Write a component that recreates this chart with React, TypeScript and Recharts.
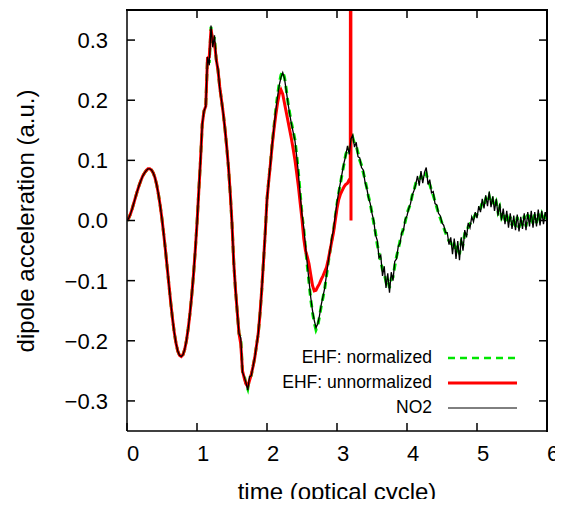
import React from "react";
import { LineChart, Line, XAxis, YAxis, Legend } from "recharts";

// sampling step of the tabulated series (optical cycles)
const STEP = 0.025;

// NO2 dipole acceleration, t = 0 .. 6
const no2 = [
  0.0, 0.004, 0.011, 0.02, 0.03, 0.04, 0.05, 0.059, 0.067, 0.074, // 0.0
  0.079, 0.083, 0.086, 0.086, 0.084, 0.079, 0.071, 0.059, 0.043, 0.024, // 0.25
  0.002, -0.023, -0.05, -0.079, -0.108, -0.137, -0.163, -0.186, -0.204, -0.217, // 0.5
  -0.224, -0.226, -0.223, -0.214, -0.199, -0.179, -0.154, -0.124, -0.09, -0.05, // 0.75
  -0.005, 0.048, 0.1, 0.16, 0.182, 0.19, 0.272, 0.258, 0.324, 0.288, // 1.0
  0.308, 0.266, 0.252, 0.22, 0.2, 0.178, 0.152, 0.122, 0.088, 0.045, // 1.25
  -0.005, -0.07, -0.115, -0.152, -0.188, -0.195, -0.252, -0.26, -0.27, -0.282, // 1.5
  -0.26, -0.258, -0.243, -0.228, -0.208, -0.188, -0.155, -0.115, -0.068, -0.02, // 1.75
  0.035, 0.066, 0.095, 0.128, 0.155, 0.182, 0.205, 0.225, 0.238, 0.246, // 2.0
  0.236, 0.216, 0.195, 0.176, 0.16, 0.146, 0.132, 0.106, 0.076, 0.042, // 2.25
  0.01, -0.012, -0.042, -0.072, -0.1, -0.128, -0.15, -0.166, -0.178, -0.172, // 2.5
  -0.158, -0.14, -0.126, -0.112, -0.09, -0.068, -0.05, -0.03, -0.015, 0.008, // 2.75
  0.03, 0.048, 0.064, 0.08, 0.096, 0.108, 0.124, 0.11, 0.136, 0.142, // 3.0
  0.122, 0.13, 0.106, 0.104, 0.088, 0.084, 0.064, 0.054, 0.038, 0.028, // 3.25
  0.012, 0.0, -0.024, -0.033, -0.062, -0.058, -0.092, -0.076, -0.112, -0.088, // 3.5
  -0.12, -0.086, -0.1, -0.068, -0.064, -0.043, -0.038, -0.02, -0.016, 0.002, // 3.75
  0.008, 0.02, 0.028, 0.042, 0.05, 0.06, 0.074, 0.058, 0.082, 0.062, // 4.0
  0.08, 0.088, 0.06, 0.068, 0.046, 0.048, 0.028, 0.026, 0.012, 0.008, // 4.25
  -0.004, -0.008, -0.02, -0.02, -0.04, -0.028, -0.056, -0.03, -0.064, -0.034, // 4.5
  -0.066, -0.028, -0.05, -0.016, -0.028, -0.004, -0.012, 0.006, -0.002, 0.014, // 4.75
  0.004, 0.024, 0.014, 0.036, 0.02, 0.042, 0.024, 0.048, 0.022, 0.04, // 5.0
  0.016, 0.036, 0.008, 0.028, 0.0, 0.02, -0.006, 0.016, -0.012, 0.012, // 5.25
  -0.014, 0.008, -0.016, 0.01, -0.018, 0.006, -0.014, 0.012, -0.016, 0.014, // 5.5
  -0.01, 0.016, -0.012, 0.014, -0.01, 0.018, -0.008, 0.016, -0.006, 0.014, // 5.75
  0.002,
];

// EHF normalized, t = 0 .. 6
const ehfNorm = [
  0.0, 0.004, 0.011, 0.02, 0.03, 0.04, 0.05, 0.059, 0.067, 0.074,
  0.079, 0.083, 0.086, 0.086, 0.084, 0.079, 0.071, 0.059, 0.043, 0.024,
  0.002, -0.023, -0.05, -0.079, -0.108, -0.137, -0.163, -0.186, -0.204, -0.217,
  -0.224, -0.226, -0.223, -0.214, -0.199, -0.179, -0.154, -0.124, -0.09, -0.05,
  -0.005, 0.048, 0.1, 0.16, 0.182, 0.19, 0.27, 0.262, 0.322, 0.292,
  0.305, 0.268, 0.25, 0.222, 0.2, 0.178, 0.152, 0.122, 0.088, 0.045,
  -0.005, -0.07, -0.115, -0.152, -0.188, -0.195, -0.252, -0.258, -0.272, -0.28,
  -0.262, -0.258, -0.243, -0.228, -0.208, -0.188, -0.155, -0.115, -0.068, -0.02,
  0.035, 0.068, 0.097, 0.13, 0.157, 0.184, 0.208, 0.228, 0.242, 0.248,
  0.238, 0.218, 0.196, 0.178, 0.162, 0.148, 0.134, 0.108, 0.078, 0.044,
  0.01, -0.014, -0.045, -0.075, -0.103, -0.131, -0.153, -0.17, -0.182, -0.175,
  -0.16, -0.142, -0.128, -0.113, -0.092, -0.07, -0.052, -0.032, -0.016, 0.006,
  0.028, 0.046, 0.062, 0.079, 0.094, 0.11, 0.118, 0.116, 0.13, 0.138,
  0.128, 0.124, 0.112, 0.1, 0.092, 0.08, 0.068, 0.054, 0.04, 0.028,
  0.012, -0.004, -0.02, -0.04, -0.054, -0.068, -0.082, -0.088, -0.102, -0.098,
  -0.112, -0.096, -0.094, -0.076, -0.06, -0.048, -0.034, -0.024, -0.012, -0.002,
  0.012, 0.02, 0.028, 0.042, 0.05, 0.062, 0.066, 0.066, 0.074, 0.068,
  0.072, 0.078, 0.066, 0.06, 0.05, 0.042, 0.032, 0.022, 0.012, 0.004,
  -0.004, -0.012, -0.02, -0.028, -0.034, -0.036, -0.046, -0.04, -0.054, -0.042,
  -0.056, -0.036, -0.04, -0.022, -0.022, -0.01, -0.006, 0.002, 0.004, 0.01,
  0.01, 0.018, 0.02, 0.03, 0.026, 0.036, 0.03, 0.04, 0.028, 0.034,
  0.022, 0.03, 0.014, 0.022, 0.006, 0.014, 0.0, 0.01, -0.006, 0.006,
  -0.008, 0.004, -0.01, 0.006, -0.012, 0.002, -0.008, 0.008, -0.01, 0.01,
  -0.004, 0.012, -0.006, 0.01, -0.004, 0.012, -0.002, 0.01, 0.0, 0.008,
  0.002,
];

// EHF unnormalized, t = 0 .. 3.175 (then it blows up)
const ehfUnnorm = [
  0.0, 0.004, 0.011, 0.02, 0.03, 0.04, 0.05, 0.059, 0.067, 0.074,
  0.079, 0.083, 0.086, 0.086, 0.084, 0.079, 0.071, 0.059, 0.043, 0.024,
  0.002, -0.023, -0.05, -0.079, -0.108, -0.137, -0.163, -0.186, -0.204, -0.217,
  -0.224, -0.226, -0.223, -0.214, -0.199, -0.179, -0.154, -0.124, -0.09, -0.05,
  -0.005, 0.048, 0.1, 0.16, 0.182, 0.19, 0.27, 0.272, 0.318, 0.3,
  0.295, 0.268, 0.25, 0.222, 0.2, 0.178, 0.152, 0.122, 0.088, 0.045,
  -0.005, -0.07, -0.115, -0.152, -0.188, -0.205, -0.25, -0.262, -0.272, -0.276,
  -0.266, -0.256, -0.243, -0.228, -0.208, -0.188, -0.155, -0.115, -0.068, -0.02,
  0.035, 0.066, 0.095, 0.126, 0.152, 0.175, 0.195, 0.21, 0.217, 0.21,
  0.195, 0.18, 0.165, 0.15, 0.135, 0.118, 0.1, 0.078, 0.055, 0.028,
  0.002, -0.03, -0.05, -0.06, -0.072, -0.09, -0.108, -0.117, -0.116, -0.11,
  -0.105, -0.098, -0.092, -0.085, -0.078, -0.065, -0.05, -0.035, -0.02, 0.0,
  0.02, 0.035, 0.044, 0.05, 0.056, 0.06, 0.062, 0.068,
];
const unnormTailT = [3.19, 3.195, 3.2];
const unnormTailV = [0.07, 1.0, 0.0];

const X_MIN = 0;
const X_MAX = 6;
const Y_MIN = -0.35;
const Y_MAX = 0.35;
const xTicks = [0, 1, 2, 3, 4, 5, 6];
const xInner = [1, 2, 3, 4, 5];
const yTicks = [-0.3, -0.2, -0.1, 0, 0.1, 0.2, 0.3];

// chart layout
const W = 563;
const H = 507;
const MARGIN = { top: 10, right: 16, bottom: 0, left: 0 };
const Y_AXIS_W = 127;
const X_AXIS_H = 76;
const TICK = 8;

// plot box, derived from the layout above (used only for the top/right frame)
const plotL = MARGIN.left + Y_AXIS_W;
const plotT = MARGIN.top;
const plotR = W - MARGIN.right;
const plotB = H - MARGIN.bottom - X_AXIS_H;
const sx = (t: number) => plotL + ((t - X_MIN) / (X_MAX - X_MIN)) * (plotR - plotL);
const sy = (v: number) => plotB - ((v - Y_MIN) / (Y_MAX - Y_MIN)) * (plotB - plotT);

const grid = (vals: number[]) =>
  vals.map((v, i) => ({ t: +(i * STEP).toFixed(3), v }));

const no2Data = grid(no2);
const normData = grid(ehfNorm);
const unnormData = [
  ...grid(ehfUnnorm),
  ...unnormTailT.map((t, i) => ({ t, v: unnormTailV[i] })),
];

const FONT = "'Liberation Sans', Arial, Helvetica, sans-serif";

const seriesStyle: Record<string, { color: string; width: number; dash?: string }> = {
  "EHF: normalized": { color: "#00e600", width: 2.5, dash: "7 5" },
  "EHF: unnormalized": { color: "#ff0000", width: 3 },
  NO2: { color: "#000000", width: 1 },
};

const XTick = (props: any) => {
  const { x, y, payload } = props;
  return (
    <text x={x + 6} y={y} dy="0.71em" textAnchor="middle" fontSize={22} fontFamily={FONT} fill="#000">
      {payload.value}
    </text>
  );
};

const fmtY = (v: number) => (v < 0 ? "\u2212" + Math.abs(v).toFixed(1) : v.toFixed(1));

const YTick = (props: any) => {
  const { x, y, payload } = props;
  return (
    <text x={x} y={y} dy="0.36em" textAnchor="end" fontSize={22} fontFamily={FONT} fill="#000">
      {fmtY(Number(payload.value))}
    </text>
  );
};

const renderLegend = (props: any) => {
  const { payload } = props;
  return (
    <div style={{ fontFamily: FONT, fontSize: 17.5, color: "#000" }}>
      {payload.map((entry: any) => {
        const s = seriesStyle[entry.value];
        return (
          <div key={entry.value} style={{ display: "flex", alignItems: "center", height: 25 }}>
            <span style={{ width: 160, textAlign: "right", whiteSpace: "nowrap" }}>{entry.value}</span>
            <svg width={70} height={6} style={{ marginLeft: 16 }}>
              <line x1={0} y1={3} x2={69} y2={3} stroke={s.color} strokeWidth={s.width} strokeDasharray={s.dash} />
            </svg>
          </div>
        );
      })}
    </div>
  );
};

// top and right sides of the gnuplot-style frame (HTML borders) plus inward ticks
const FrameOverlay = () => (
  <>
    <div
      style={{
        position: "absolute",
        left: plotL - 1,
        top: plotT - 1,
        width: plotR - plotL,
        height: plotB - plotT,
        borderTop: "2px solid #000",
        borderRight: "2px solid #000",
        zIndex: 20,
        pointerEvents: "none",
      }}
    />
    <svg
      width={W}
      height={H}
      style={{ position: "absolute", left: 0, top: 0, zIndex: 21, pointerEvents: "none" }}
    >
      {xInner.map((t) => (
        <line key={"tx" + t} x1={sx(t)} y1={plotT} x2={sx(t)} y2={plotT + TICK} stroke="#000" strokeWidth={1.5} />
      ))}
      {yTicks.map((v) => (
        <line key={"ty" + v} x1={plotR} y1={sy(v)} x2={plotR - TICK} y2={sy(v)} stroke="#000" strokeWidth={1.5} />
      ))}
    </svg>
  </>
);

const axisLine = { stroke: "#000", strokeWidth: 1.5 };

export default function App() {
  return (
    <div style={{ position: "relative", margin: -8, width: W, height: H, background: "#fff" }}>
      <LineChart width={W} height={H} margin={MARGIN}>
        <XAxis
          dataKey="t"
          type="number"
          domain={[X_MIN, X_MAX]}
          ticks={xTicks}
          allowDataOverflow
          height={X_AXIS_H}
          tickSize={-TICK}
          tickMargin={22}
          axisLine={axisLine}
          tickLine={axisLine}
          tick={<XTick />}
          label={{
            value: "time (optical cycle)",
            position: "insideBottom",
            offset: 7,
            style: { fontSize: 24, fontFamily: FONT, fill: "#000" },
          }}
        />
        <YAxis
          type="number"
          domain={[Y_MIN, Y_MAX]}
          ticks={yTicks}
          allowDataOverflow
          width={Y_AXIS_W}
          tickSize={-TICK}
          tickMargin={27}
          axisLine={axisLine}
          tickLine={axisLine}
          tick={<YTick />}
          label={{
            content: () => (
              <text
                x={25}
                y={221}
                transform="rotate(-90 25 221)"
                textAnchor="middle"
                dominantBaseline="central"
                fontSize={24}
                fontFamily={FONT}
                fill="#000"
              >
                dipole acceleration (a.u.)
              </text>
            ),
          }}
        />
        <Line
          data={normData}
          dataKey="v"
          name="EHF: normalized"
          type="linear"
          stroke="#00e600"
          strokeWidth={3}
          strokeDasharray="7 5"
          dot={false}
          activeDot={false}
          isAnimationActive={false}
        />
        <Line
          data={unnormData}
          dataKey="v"
          name="EHF: unnormalized"
          type="linear"
          stroke="#ff0000"
          strokeWidth={3}
          dot={false}
          activeDot={false}
          isAnimationActive={false}
        />
        <Line
          data={no2Data}
          dataKey="v"
          name="NO2"
          type="linear"
          stroke="#000000"
          strokeWidth={1.3}
          dot={false}
          activeDot={false}
          isAnimationActive={false}
        />
        <Legend
          layout="horizontal"
          align="center"
          verticalAlign="middle"
          content={renderLegend}
          wrapperStyle={{ left: 272, top: 345, width: 260 }}
        />
      </LineChart>
      <FrameOverlay />
    </div>
  );
}
